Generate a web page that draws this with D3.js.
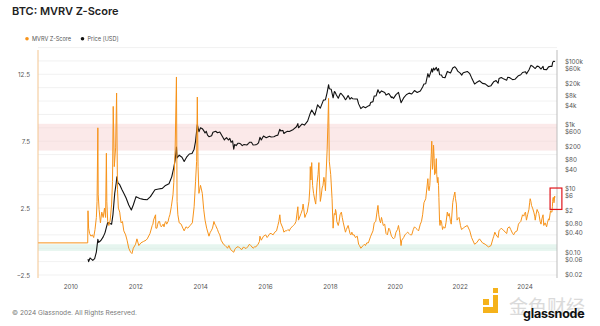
<!DOCTYPE html>
<html>
<head>
<meta charset="utf-8">
<script src="https://cdn.jsdelivr.net/npm/d3@7"></script>
<style>
  body { margin: 0; background: #fff; }
  svg { display: block; font-family: Inter, "Noto Sans", sans-serif; }
</style>
</head>
<body>
<svg id="chart" width="600" height="326"></svg>
<script>
// MVRV Z-Score (left axis)
const zScoreSeries = [
  ["2009-01-03", -0.1], ["2010-07-15", -0.1], ["2010-07-18", 2.3], ["2010-07-25", 1.0],
  ["2010-08-05", 0.6], ["2010-08-20", 0.4], ["2010-09-05", 0.5], ["2010-09-20", 0.3],
  ["2010-10-05", 0.9], ["2010-10-20", 1.8], ["2010-10-28", 3.0], ["2010-11-06", 8.5],
  ["2010-11-10", 3.5], ["2010-11-20", 2.4], ["2010-12-05", 1.4], ["2010-12-20", 2.2],
  ["2011-01-05", 1.8], ["2011-01-20", 2.5], ["2011-02-01", 1.8], ["2011-02-10", 6.6],
  ["2011-02-15", 3.0], ["2011-02-25", 1.5], ["2011-03-10", 1.2], ["2011-03-25", 1.6],
  ["2011-04-10", 2.8], ["2011-04-20", 4.5], ["2011-04-28", 10.1], ["2011-05-10", 5.6],
  ["2011-05-25", 7.0], ["2011-06-05", 11.1], ["2011-06-15", 3.9], ["2011-06-25", 2.5],
  ["2011-07-10", 2.2], ["2011-07-25", 1.4], ["2011-08-10", 1.5], ["2011-08-25", 0.8],
  ["2011-09-15", 0.5], ["2011-10-01", 0.1], ["2011-10-20", -0.5], ["2011-11-10", -0.8],
  ["2011-11-25", -0.9], ["2011-12-10", -0.5], ["2012-01-05", -0.2], ["2012-01-20", 0.2],
  ["2012-02-10", -0.3], ["2012-03-05", -0.1], ["2012-04-01", 0.0], ["2012-05-01", 0.1],
  ["2012-05-15", 0.2], ["2012-06-15", 0.6], ["2012-07-10", 1.2], ["2012-07-18", 1.3],
  ["2012-07-25", 1.6], ["2012-08-10", 1.9], ["2012-08-17", 2.0], ["2012-08-20", 1.0],
  ["2012-09-01", 1.0], ["2012-09-10", 1.3], ["2012-09-20", 1.5], ["2012-10-01", 1.5],
  ["2012-10-10", 1.2], ["2012-10-20", 1.1], ["2012-11-10", 1.3], ["2012-11-20", 1.1],
  ["2012-12-01", 1.4], ["2012-12-10", 1.5], ["2012-12-20", 1.3], ["2013-01-05", 1.5],
  ["2013-01-15", 1.8], ["2013-01-25", 2.0], ["2013-02-10", 2.6], ["2013-03-01", 3.5],
  ["2013-03-10", 4.4], ["2013-03-25", 6.8], ["2013-04-09", 12.3], ["2013-04-16", 3.0],
  ["2013-04-25", 2.0], ["2013-05-10", 1.4], ["2013-06-01", 1.3], ["2013-06-20", 1.0],
  ["2013-07-05", 0.8], ["2013-07-25", 1.1], ["2013-08-15", 1.0], ["2013-09-10", 1.2],
  ["2013-10-05", 1.4], ["2013-10-25", 2.6], ["2013-11-10", 4.5], ["2013-11-22", 6.0],
  ["2013-11-30", 10.8], ["2013-12-08", 5.6], ["2013-12-18", 3.6], ["2014-01-05", 4.2],
  ["2014-01-25", 3.6], ["2014-02-10", 2.4], ["2014-02-25", 1.6], ["2014-03-15", 1.0],
  ["2014-04-10", 0.4], ["2014-04-25", 0.7], ["2014-05-05", 0.8], ["2014-05-20", 1.0],
  ["2014-06-05", 1.5], ["2014-06-15", 1.3], ["2014-06-25", 1.2], ["2014-07-01", 1.1],
  ["2014-07-15", 0.9], ["2014-07-25", 0.7], ["2014-08-10", 0.5], ["2014-08-25", 0.1],
  ["2014-09-20", -0.2], ["2014-10-10", -0.3], ["2014-10-25", -0.4], ["2014-11-05", -0.5],
  ["2014-11-20", -0.3], ["2014-12-10", -0.6], ["2015-01-14", -0.8], ["2015-01-25", -0.6],
  ["2015-02-05", -0.5], ["2015-02-20", -0.4], ["2015-03-10", -0.4], ["2015-03-25", -0.5],
  ["2015-04-15", -0.6], ["2015-05-05", -0.4], ["2015-05-20", -0.5], ["2015-06-05", -0.5],
  ["2015-06-20", -0.4], ["2015-07-10", -0.2], ["2015-07-25", -0.3], ["2015-08-20", -0.5],
  ["2015-09-05", -0.4], ["2015-09-20", -0.4], ["2015-10-15", -0.2], ["2015-10-30", 0.0],
  ["2015-11-05", 0.4], ["2015-11-20", 0.1], ["2015-12-15", 0.4], ["2016-01-10", 0.5],
  ["2016-01-25", 0.3], ["2016-02-05", 0.4], ["2016-02-25", 0.6], ["2016-03-10", 0.6],
  ["2016-04-01", 0.5], ["2016-04-20", 0.7], ["2016-05-10", 0.8], ["2016-05-25", 1.2],
  ["2016-06-05", 1.5], ["2016-06-16", 2.0], ["2016-06-25", 1.4], ["2016-07-20", 1.0],
  ["2016-08-01", 0.7], ["2016-08-15", 0.8], ["2016-09-01", 0.8], ["2016-09-15", 0.9],
  ["2016-10-01", 0.8], ["2016-10-15", 1.0], ["2016-11-01", 1.1], ["2016-11-15", 1.2],
  ["2016-12-01", 1.3], ["2016-12-15", 1.5], ["2017-01-05", 2.6], ["2017-01-12", 1.6],
  ["2017-02-10", 2.1], ["2017-02-25", 2.4], ["2017-03-05", 2.8], ["2017-03-25", 1.8],
  ["2017-04-05", 2.0], ["2017-04-20", 2.2], ["2017-05-10", 3.0], ["2017-05-20", 4.0],
  ["2017-05-25", 5.6], ["2017-06-01", 4.6], ["2017-06-10", 5.9], ["2017-06-20", 4.2],
  ["2017-07-01", 3.6], ["2017-07-15", 3.1], ["2017-07-25", 2.8], ["2017-08-10", 4.4],
  ["2017-08-20", 5.0], ["2017-08-30", 5.9], ["2017-09-05", 4.6], ["2017-09-15", 3.0],
  ["2017-09-25", 3.4], ["2017-10-05", 4.0], ["2017-10-15", 4.2], ["2017-10-25", 4.8],
  ["2017-11-05", 4.4], ["2017-11-12", 3.8], ["2017-11-20", 5.2], ["2017-12-01", 6.9],
  ["2017-12-08", 8.5], ["2017-12-12", 9.5], ["2017-12-17", 10.7], ["2017-12-25", 6.0],
  ["2018-01-10", 5.0], ["2018-01-25", 3.2], ["2018-02-06", 1.0], ["2018-02-15", 1.9],
  ["2018-02-20", 2.1], ["2018-02-28", 2.0], ["2018-03-05", 2.4], ["2018-03-12", 2.2],
  ["2018-03-20", 1.5], ["2018-04-05", 1.2], ["2018-04-15", 1.5], ["2018-04-25", 2.0],
  ["2018-05-10", 2.2], ["2018-05-20", 1.8], ["2018-06-01", 1.4], ["2018-06-25", 0.7],
  ["2018-07-05", 0.9], ["2018-07-25", 1.2], ["2018-08-05", 0.9], ["2018-08-15", 0.6],
  ["2018-08-25", 0.5], ["2018-09-05", 0.7], ["2018-09-15", 0.5], ["2018-10-01", 0.5],
  ["2018-10-15", 0.3], ["2018-11-05", 0.4], ["2018-11-20", -0.2], ["2018-11-30", -0.3],
  ["2018-12-15", -0.5], ["2019-01-10", -0.3], ["2019-01-25", -0.2], ["2019-02-05", -0.3],
  ["2019-02-20", -0.1], ["2019-03-10", -0.1], ["2019-04-05", 0.4], ["2019-05-01", 0.8],
  ["2019-05-15", 1.4], ["2019-06-01", 1.5], ["2019-06-15", 2.2], ["2019-06-26", 2.7],
  ["2019-07-05", 2.0], ["2019-07-15", 1.6], ["2019-07-25", 1.4], ["2019-08-05", 1.8],
  ["2019-08-15", 1.5], ["2019-08-25", 1.2], ["2019-09-10", 1.3], ["2019-09-25", 0.6],
  ["2019-10-10", 0.5], ["2019-10-26", 1.0], ["2019-11-05", 0.9], ["2019-11-25", 0.4],
  ["2019-12-18", 0.2], ["2020-01-01", 0.3], ["2020-01-15", 0.7], ["2020-02-01", 0.9],
  ["2020-02-12", 1.2], ["2020-02-25", 0.7], ["2020-03-12", -0.3], ["2020-03-20", 0.1],
  ["2020-04-10", 0.3], ["2020-04-25", 0.5], ["2020-05-10", 0.6], ["2020-05-25", 0.7],
  ["2020-06-10", 0.6], ["2020-06-25", 0.5], ["2020-07-10", 0.5], ["2020-07-28", 0.9],
  ["2020-08-10", 1.1], ["2020-08-25", 1.0], ["2020-09-10", 0.9], ["2020-09-25", 0.8],
  ["2020-10-15", 1.3], ["2020-10-28", 1.5], ["2020-11-10", 2.0], ["2020-11-25", 2.9],
  ["2020-12-15", 3.2], ["2021-01-08", 4.7], ["2021-01-15", 3.9], ["2021-01-22", 3.8],
  ["2021-01-30", 4.2], ["2021-02-10", 5.8], ["2021-02-15", 6.5], ["2021-02-21", 7.5],
  ["2021-03-01", 5.4], ["2021-03-06", 5.8], ["2021-03-13", 7.2], ["2021-03-20", 6.2],
  ["2021-03-25", 5.0], ["2021-04-05", 5.2], ["2021-04-13", 6.2], ["2021-04-18", 5.0],
  ["2021-04-25", 4.4], ["2021-05-01", 4.8], ["2021-05-08", 4.2], ["2021-05-12", 3.3],
  ["2021-05-20", 1.4], ["2021-05-25", 1.2], ["2021-06-01", 1.6], ["2021-06-10", 1.5],
  ["2021-06-22", 0.9], ["2021-07-01", 1.1], ["2021-07-20", 1.0], ["2021-07-31", 1.4],
  ["2021-08-15", 2.2], ["2021-08-25", 1.9], ["2021-09-05", 2.1], ["2021-09-20", 1.5],
  ["2021-09-28", 1.3], ["2021-10-15", 2.9], ["2021-10-25", 3.3], ["2021-11-08", 3.7],
  ["2021-11-15", 3.2], ["2021-11-25", 2.8], ["2021-12-03", 1.6], ["2021-12-10", 1.7],
  ["2021-12-25", 1.8], ["2022-01-10", 1.2], ["2022-01-22", 0.9], ["2022-02-10", 1.0],
  ["2022-03-01", 1.1], ["2022-03-28", 1.2], ["2022-04-25", 0.8], ["2022-05-15", 0.3],
  ["2022-06-18", -0.2], ["2022-07-10", -0.1], ["2022-08-12", 0.2], ["2022-09-15", -0.1],
  ["2022-10-15", -0.2], ["2022-11-21", -0.4], ["2022-12-20", -0.3], ["2023-01-10", 0.2],
  ["2023-01-20", 0.4], ["2023-02-01", 0.7], ["2023-02-15", 0.5], ["2023-03-10", 0.3],
  ["2023-03-20", 0.8], ["2023-04-01", 0.9], ["2023-04-15", 1.0], ["2023-05-15", 0.8],
  ["2023-06-15", 0.6], ["2023-06-25", 1.0], ["2023-07-15", 1.1], ["2023-07-30", 0.9],
  ["2023-08-20", 0.6], ["2023-09-01", 0.5], ["2023-09-15", 0.7], ["2023-10-10", 0.8],
  ["2023-10-25", 1.3], ["2023-11-05", 1.4], ["2023-11-20", 1.5], ["2023-12-10", 2.0],
  ["2023-12-25", 1.9], ["2024-01-01", 2.1], ["2024-01-12", 2.2], ["2024-01-23", 1.6],
  ["2024-02-05", 2.0], ["2024-02-20", 2.4], ["2024-02-28", 2.9], ["2024-03-05", 3.2],
  ["2024-03-13", 3.0], ["2024-03-20", 2.7], ["2024-04-01", 2.5], ["2024-04-15", 2.2],
  ["2024-04-25", 1.9], ["2024-05-01", 1.6], ["2024-05-10", 2.0], ["2024-05-22", 2.4],
  ["2024-06-10", 2.1], ["2024-06-25", 1.5], ["2024-07-05", 1.3], ["2024-07-15", 1.7],
  ["2024-07-28", 2.0], ["2024-08-05", 1.2], ["2024-08-20", 1.4], ["2024-09-06", 1.1],
  ["2024-09-15", 1.4], ["2024-09-28", 1.7], ["2024-10-05", 1.6], ["2024-10-20", 2.3],
  ["2024-10-30", 2.2], ["2024-11-05", 2.2], ["2024-11-10", 2.6], ["2024-11-13", 3.0],
  ["2024-11-18", 3.3], ["2024-11-22", 3.3], ["2024-11-28", 2.9], ["2024-12-01", 3.0],
  ["2024-12-05", 3.4], ["2024-12-10", 3.3]
];

// BTC price in USD (right, log axis)
const priceSeries = [
  ["2010-07-18", 0.06], ["2010-07-25", 0.05], ["2010-08-10", 0.065], ["2010-08-25", 0.06],
  ["2010-09-10", 0.055], ["2010-10-01", 0.062], ["2010-10-20", 0.1], ["2010-11-06", 0.25],
  ["2010-11-15", 0.2], ["2010-12-10", 0.23], ["2011-01-05", 0.3], ["2011-01-25", 0.4],
  ["2011-02-10", 0.6], ["2011-02-25", 0.85], ["2011-03-15", 0.8], ["2011-04-10", 0.75],
  ["2011-04-25", 1.5], ["2011-05-15", 7], ["2011-06-01", 15], ["2011-06-08", 23],
  ["2011-06-20", 15], ["2011-07-10", 13], ["2011-08-05", 9], ["2011-08-25", 7],
  ["2011-09-20", 5], ["2011-10-20", 3], ["2011-11-18", 2.1], ["2011-12-10", 3.0],
  ["2012-01-10", 5.5], ["2012-02-20", 4.8], ["2012-04-01", 4.5], ["2012-05-15", 4.4],
  ["2012-06-20", 5.5], ["2012-08-10", 9], ["2012-09-20", 9.5], ["2012-11-01", 10],
  ["2012-12-01", 12], ["2013-01-15", 14], ["2013-02-15", 23], ["2013-03-10", 45],
  ["2013-03-25", 77], ["2013-04-09", 200], ["2013-04-16", 90], ["2013-05-10", 110],
  ["2013-06-10", 95], ["2013-07-05", 70], ["2013-08-01", 95], ["2013-09-01", 120],
  ["2013-10-01", 125], ["2013-10-25", 170], ["2013-11-10", 300], ["2013-11-30", 1000],
  ["2013-12-18", 600], ["2014-01-05", 800], ["2014-01-25", 750], ["2014-02-10", 650],
  ["2014-02-25", 550], ["2014-03-10", 620], ["2014-03-25", 470], ["2014-04-10", 420],
  ["2014-05-10", 450], ["2014-05-25", 580], ["2014-06-10", 600], ["2014-06-25", 620],
  ["2014-07-15", 560], ["2014-08-10", 590], ["2014-08-25", 500], ["2014-09-10", 420],
  ["2014-10-01", 330], ["2014-10-10", 360], ["2014-10-25", 390], ["2014-11-15", 330],
  ["2014-12-01", 370], ["2014-12-15", 280], ["2015-01-01", 310], ["2015-01-14", 170],
  ["2015-01-25", 240], ["2015-02-10", 220], ["2015-03-01", 260], ["2015-03-15", 260],
  ["2015-04-01", 250], ["2015-04-20", 220], ["2015-05-10", 240], ["2015-06-10", 230],
  ["2015-07-01", 260], ["2015-07-10", 280], ["2015-08-01", 280], ["2015-08-20", 230],
  ["2015-09-20", 235], ["2015-10-01", 240], ["2015-10-20", 270], ["2015-11-05", 400],
  ["2015-11-20", 330], ["2015-12-15", 440], ["2016-01-15", 390], ["2016-02-20", 430],
  ["2016-03-10", 410], ["2016-04-10", 420], ["2016-05-01", 450], ["2016-05-25", 470],
  ["2016-06-16", 720], ["2016-06-25", 640], ["2016-07-20", 660], ["2016-08-01", 530],
  ["2016-08-15", 570], ["2016-09-10", 620], ["2016-10-01", 610], ["2016-11-15", 710],
  ["2016-12-20", 860], ["2017-01-05", 1080], ["2017-01-12", 800], ["2017-02-20", 1050],
  ["2017-03-20", 970], ["2017-04-25", 1300], ["2017-05-25", 2300], ["2017-06-10", 2900],
  ["2017-07-15", 2000], ["2017-08-15", 4200], ["2017-09-15", 3300], ["2017-10-20", 5900],
  ["2017-11-12", 6100], ["2017-11-30", 10000], ["2017-12-17", 18000], ["2017-12-25", 13500],
  ["2018-01-15", 13000], ["2018-02-06", 7000], ["2018-02-20", 11000], ["2018-03-01", 10500],
  ["2018-03-15", 8500], ["2018-04-05", 6800], ["2018-04-25", 9200], ["2018-05-05", 9700],
  ["2018-06-05", 7600], ["2018-06-25", 6100], ["2018-07-05", 6500], ["2018-07-25", 8200],
  ["2018-08-15", 6300], ["2018-09-01", 7100], ["2018-09-15", 6500], ["2018-10-15", 6400],
  ["2018-11-05", 6400], ["2018-11-20", 4500], ["2018-12-15", 3200], ["2019-01-10", 3700],
  ["2019-01-25", 3550], ["2019-02-05", 3400], ["2019-03-10", 3900], ["2019-03-25", 4000],
  ["2019-04-05", 5000], ["2019-05-01", 5300], ["2019-05-15", 8000], ["2019-06-05", 8000],
  ["2019-06-26", 12500], ["2019-07-05", 11000], ["2019-07-15", 9800], ["2019-08-05", 11500],
  ["2019-09-10", 10300], ["2019-09-25", 8500], ["2019-10-26", 9500], ["2019-11-25", 7100],
  ["2019-12-01", 7500], ["2019-12-18", 6700], ["2020-01-15", 8800], ["2020-02-12", 10300],
  ["2020-03-12", 4900], ["2020-04-10", 6900], ["2020-05-10", 8700], ["2020-06-10", 9800],
  ["2020-07-10", 9200], ["2020-08-10", 11800], ["2020-09-10", 10300], ["2020-10-15", 11400],
  ["2020-11-10", 15300], ["2020-11-25", 19000], ["2020-12-15", 19300], ["2021-01-08", 40000],
  ["2021-01-22", 31000], ["2021-02-10", 45000], ["2021-02-21", 57000], ["2021-03-01", 45000],
  ["2021-03-13", 60000], ["2021-03-25", 52000], ["2021-04-13", 63000], ["2021-04-25", 49000],
  ["2021-05-08", 58000], ["2021-05-20", 37000], ["2021-06-10", 36500], ["2021-06-22", 31000],
  ["2021-07-20", 29800], ["2021-08-15", 47000], ["2021-09-20", 42000], ["2021-10-15", 60000],
  ["2021-11-08", 66000], ["2021-11-25", 58000], ["2021-12-10", 48000], ["2022-01-10", 41000],
  ["2022-01-24", 36000], ["2022-02-10", 43000], ["2022-03-28", 47000], ["2022-04-25", 40000],
  ["2022-05-15", 30000], ["2022-06-18", 19000], ["2022-07-10", 21000], ["2022-08-12", 24000],
  ["2022-09-15", 19800], ["2022-10-15", 19100], ["2022-11-21", 15800], ["2022-12-20", 16800],
  ["2023-01-20", 22500], ["2023-02-15", 24300], ["2023-03-10", 20000], ["2023-03-20", 28000],
  ["2023-04-15", 30300], ["2023-05-15", 27000], ["2023-06-15", 25000], ["2023-06-25", 30500],
  ["2023-07-15", 30200], ["2023-08-20", 26000], ["2023-09-15", 26600], ["2023-10-25", 34500],
  ["2023-11-20", 37000], ["2023-12-10", 43500], ["2024-01-12", 46000], ["2024-01-23", 39500],
  ["2024-02-20", 52000], ["2024-03-13", 73000], ["2024-04-01", 69000], ["2024-04-15", 63000],
  ["2024-05-01", 58000], ["2024-05-22", 69000], ["2024-06-10", 67000], ["2024-07-05", 56000],
  ["2024-07-28", 68000], ["2024-08-05", 54000], ["2024-09-06", 53500], ["2024-09-28", 65500],
  ["2024-10-20", 68500], ["2024-11-05", 68000], ["2024-11-13", 90000], ["2024-11-22", 98500],
  ["2024-12-01", 96500], ["2024-12-10", 98000]
];

const yearTicks = [2010, 2012, 2014, 2016, 2018, 2020, 2022, 2024];
const zTicks = [-2.5, 2.5, 7.5, 12.5];
const priceTicks = [0.02, 0.06, 0.1, 0.4, 0.8, 2, 6, 10, 40, 80, 200, 600, 1000, 4000, 8000, 20000, 60000, 100000];
const priceTickLabels = ["$0.02", "$0.06", "$0.10", "$0.40", "$0.80", "$2", "$6", "$10", "$40", "$80",
  "$200", "$600", "$1k", "$4k", "$8k", "$20k", "$60k", "$100k"];
const overvaluedBand = [6.8, 8.8];
const undervaluedBand = [-0.7, -0.2];
const highlightWindow = ["2024-10-15", "2025-02-25"];   // boxed latest reading
const highlightRange = [2.4, 4.0];

const parse = d3.utcParse("%Y-%m-%d");
const svg = d3.select("#chart");

const plot = { left: 38, right: 557, top: 50, bottom: 278 };

const x = d3.scaleUtc()
  .domain([new Date(Date.UTC(2009, 0, 1)), new Date(Date.UTC(2025, 0, 1))])
  .range([plot.left, plot.right]);
const yZ = d3.scaleLinear().domain([-2.5, 12.5]).range([275, 74.3]);
const yP = d3.scaleLog().domain([0.02, 100000]).range([274.3, 61]);

// Title
svg.append("text").attr("x", 12).attr("y", 15)
  .attr("font-size", 11).attr("font-weight", 600).attr("fill", "#222")
  .text("BTC: MVRV Z-Score");

// Legend
const legend = [
  { label: "MVRV Z-Score", color: "#f7931a", x: 27 },
  { label: "Price [USD]", color: "#111", x: 82.5 }
];
legend.forEach(l => {
  svg.append("circle").attr("cx", l.x).attr("cy", 38.8).attr("r", 1.8).attr("fill", l.color);
  svg.append("text").attr("x", l.x + 5).attr("y", 41)
    .attr("font-size", 5.6).attr("fill", "#555").text(l.label);
});

// Horizontal grid
const gridVals = d3.range(-2.5, 14.6, 1);
svg.append("g").selectAll("line").data(gridVals).join("line")
  .attr("x1", plot.left).attr("x2", plot.right)
  .attr("y1", d => yZ(d)).attr("y2", d => yZ(d))
  .attr("stroke", "#eeeeee").attr("stroke-width", 0.8);

// Valuation bands
svg.append("rect").attr("x", plot.left).attr("width", plot.right - plot.left)
  .attr("y", yZ(overvaluedBand[1])).attr("height", yZ(overvaluedBand[0]) - yZ(overvaluedBand[1]))
  .attr("fill", "#f8d3d3").attr("opacity", 0.5);
svg.append("rect").attr("x", plot.left).attr("width", plot.right - plot.left)
  .attr("y", yZ(undervaluedBand[1])).attr("height", yZ(undervaluedBand[0]) - yZ(undervaluedBand[1]))
  .attr("fill", "#d5efe4").attr("opacity", 0.6);

// Axis lines
svg.append("line").attr("x1", plot.left).attr("x2", plot.left).attr("y1", plot.top).attr("y2", plot.bottom)
  .attr("stroke", "#f3c590").attr("stroke-width", 1);
svg.append("line").attr("x1", plot.right).attr("x2", plot.right).attr("y1", plot.top).attr("y2", plot.bottom)
  .attr("stroke", "#bdbdbd").attr("stroke-width", 1);

// Price line
const priceLine = d3.line().x(d => x(parse(d[0]))).y(d => yP(d[1]));
svg.append("path").datum(priceSeries).attr("d", priceLine)
  .attr("fill", "none").attr("stroke", "#111").attr("stroke-width", 1.1).attr("stroke-linejoin", "round");

// Z-score line
const zLine = d3.line().x(d => x(parse(d[0]))).y(d => yZ(d[1]));
svg.append("path").datum(zScoreSeries).attr("d", zLine)
  .attr("fill", "none").attr("stroke", "#f7931a").attr("stroke-width", 1).attr("stroke-linejoin", "round");

// Highlight box on the latest reading
svg.append("rect")
  .attr("x", x(parse(highlightWindow[0]))).attr("y", yZ(highlightRange[1]))
  .attr("width", x(parse(highlightWindow[1])) - x(parse(highlightWindow[0])))
  .attr("height", yZ(highlightRange[0]) - yZ(highlightRange[1]))
  .attr("fill", "none").attr("stroke", "#e0161b").attr("stroke-width", 1.2);

// Axes
const axisFont = g => g.call(s => s.select(".domain").remove())
  .selectAll("text").attr("font-size", 6.3).attr("fill", "#555").attr("font-family", "Inter, 'Noto Sans', sans-serif");

svg.append("g").attr("transform", `translate(${plot.left},0)`)
  .call(d3.axisLeft(yZ).tickValues(zTicks).tickSize(0).tickPadding(8).tickFormat(d3.format(".1f")))
  .call(axisFont);

svg.append("g").attr("transform", `translate(${plot.right},0)`)
  .call(d3.axisRight(yP).tickValues(priceTicks).tickSize(0).tickPadding(8)
    .tickFormat((d, i) => priceTickLabels[i]))
  .call(axisFont);

svg.append("g").attr("transform", `translate(0,${plot.bottom + 2.5})`)
  .call(d3.axisBottom(x).tickValues(yearTicks.map(yr => new Date(Date.UTC(yr, 0, 1))))
    .tickSize(0).tickPadding(4).tickFormat(d3.utcFormat("%Y")))
  .call(axisFont);

// Footer
svg.append("text").attr("x", 12).attr("y", 314.5).attr("font-size", 6.6).attr("fill", "#777")
  .text("© 2024 Glassnode. All Rights Reserved.");

// Watermark mark and caption
const wm = svg.append("g");
wm.append("rect").attr("x", 493).attr("y", 288).attr("width", 5).attr("height", 5).attr("fill", "#f5b21b");
wm.append("rect").attr("x", 493).attr("y", 295).attr("width", 5).attr("height", 18).attr("fill", "#f5b21b");
wm.append("rect").attr("x", 483).attr("y", 307).attr("width", 15).attr("height", 6).attr("fill", "#f5b21b");
wm.append("rect").attr("x", 483).attr("y", 299).attr("width", 6).attr("height", 6).attr("fill", "#f5b21b");
wm.append("text").attr("x", 509).attr("y", 314).attr("font-size", 19)
  .attr("font-family", "'Noto Sans CJK SC', sans-serif").attr("fill", "#d2d2d2").attr("opacity", 0.8)
  .text("金色财经");
svg.append("text").attr("x", 523).attr("y", 318).attr("font-size", 12.5).attr("font-weight", 700)
  .attr("fill", "#111").attr("letter-spacing", -0.2).text("glassnode");
</script>
</body>
</html>
